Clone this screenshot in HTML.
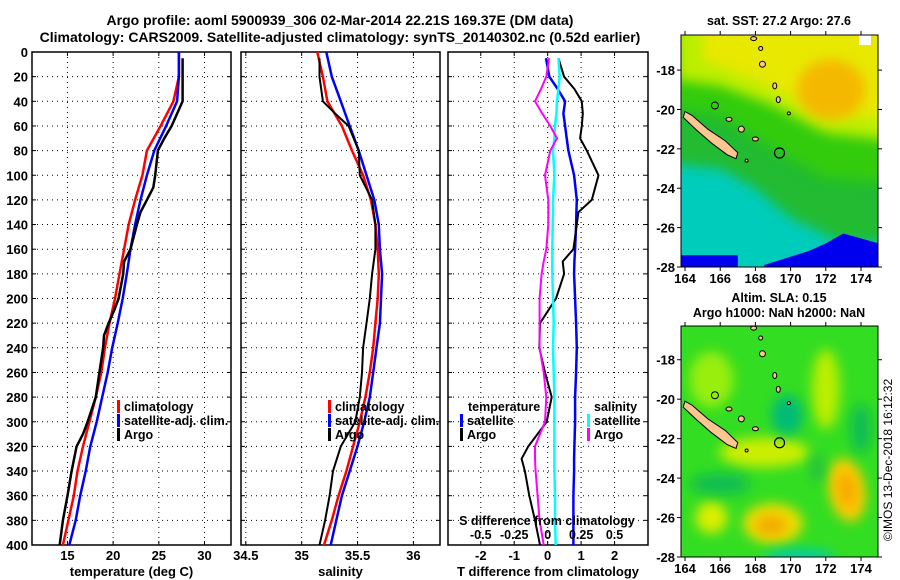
<!DOCTYPE html>
<html><head><meta charset="utf-8">
<style>
body{margin:0;background:#fff;}
svg{display:block;font-family:"Liberation Sans",Arial,sans-serif;font-weight:bold;}
</style></head><body>
<svg id="chart" width="900" height="580" viewBox="0 0 900 580">
<defs>
<filter id="blur1" x="-60%" y="-60%" width="220%" height="220%"><feGaussianBlur stdDeviation="6"/></filter>
<clipPath id="clipMap1"><rect x="681" y="35" width="197" height="232"/></clipPath>
<clipPath id="clipMap2"><rect x="681" y="326" width="197" height="231"/></clipPath>
</defs>
<text x="340" y="25" font-size="14" text-anchor="middle">Argo profile: aoml 5900939_306 02-Mar-2014 22.21S 169.37E (DM data)</text>
<text x="340" y="42" font-size="14" text-anchor="middle">Climatology: CARS2009. Satellite-adjusted climatology: synTS_20140302.nc (0.52d earlier)</text>
<g id="panels"></g>
<g id="maps"></g>
<text transform="translate(892,460) rotate(-90)" font-size="12" font-weight="normal" text-anchor="middle">©IMOS 13-Dec-2018 16:12:32</text>
</svg>
<script>
const depths=[0,20,40,60,80,100,120,140,160,180,200,220,240,260,280,300,320,340,360,380,400];
const tempClim=[27.2,27.2,26.6,25.2,23.7,23.2,22.4,21.7,21.2,20.7,20.2,19.6,19.1,18.7,18.1,17.4,16.7,16.1,15.7,15.1,14.5];
const tempSat=[27.2,27.2,27.0,25.8,24.5,23.7,23.0,22.4,21.9,21.5,21.05,20.5,19.9,19.4,18.8,18.2,17.5,17.0,16.4,15.9,15.2];
const argoDepths=[5,20,40,50,60,70,80,100,110,120,130,140,160,170,180,200,210,220,230,240,260,280,300,310,320,340,360,380,400];
const tempArgo=[27.6,27.6,27.6,27.0,26.4,25.6,24.9,24.6,24.4,23.7,23.0,22.6,21.9,21.2,21.1,20.6,20.1,19.5,19.0,18.9,18.5,18.1,17.2,16.7,16.0,15.45,15.0,14.5,14.15];
const salClim=[35.14,35.19,35.23,35.36,35.45,35.55,35.62,35.66,35.68,35.69,35.68,35.66,35.64,35.61,35.57,35.52,35.46,35.40,35.33,35.27,35.20];
const salSat=[35.22,35.27,35.35,35.43,35.51,35.58,35.65,35.69,35.70,35.72,35.71,35.70,35.67,35.64,35.61,35.56,35.50,35.43,35.36,35.31,35.26];
const salArgoDepths=[5,20,40,50,60,80,100,120,140,160,180,200,220,240,260,280,300,320,340,360,380,400];
const salArgo=[35.16,35.16,35.19,35.30,35.42,35.51,35.52,35.63,35.66,35.66,35.63,35.61,35.58,35.55,35.54,35.52,35.48,35.35,35.28,35.25,35.21,35.16];
const diffDepths=[5,20,30,40,50,60,70,80,100,120,130,140,160,170,180,200,220,240,260,280,300,320,330,340,360,380,400];
const dTempSat=[-0.05,0.05,0.3,0.52,0.47,0.52,0.57,0.62,0.79,0.87,0.86,0.85,0.82,0.8,0.79,0.82,0.85,0.87,0.85,0.82,0.82,0.8,0.79,0.79,0.77,0.77,0.77];
const dTempArgo=[0.32,0.49,0.8,1.02,1.05,1.02,0.97,1.17,1.52,1.32,0.92,0.87,0.77,0.45,0.49,0.25,-0.23,-0.25,-0.08,0.12,-0.03,-0.58,-0.78,-0.68,-0.55,-0.38,-0.23];
const dSalSat=[0.08,0.09,0.08,0.07,0.065,0.055,0.05,0.04,0.05,0.04,0.04,0.038,0.035,0.035,0.035,0.04,0.045,0.04,0.045,0.05,0.05,0.05,0.05,0.05,0.055,0.055,0.06];
const dSalArgo=[0.01,-0.01,-0.05,-0.095,-0.04,0.02,0.07,0.02,-0.02,0.005,0.005,0.005,-0.01,-0.03,-0.045,-0.06,-0.06,-0.06,-0.03,-0.01,-0.02,-0.095,-0.095,-0.09,-0.075,-0.06,-0.03];
const depthTicks=[0,20,40,60,80,100,120,140,160,180,200,220,240,260,280,300,320,340,360,380,400];
const tempTicks=[15,20,25,30];
const salTicks=[34.5,35,35.5,36];
const dTempTicks=[-2,-1,0,1,2];
const dSalTicks=[-0.5,-0.25,0,0.25,0.5];
const dSalTickLabels=["-0.5","-0.25","0","0.25","0.5"];

const NS='http://www.w3.org/2000/svg';
function mk(tag,attrs,parent){const e=document.createElementNS(NS,tag);for(const k in attrs)e.setAttribute(k,attrs[k]);parent.appendChild(e);return e;}
const Y0=52,Y1=545;
function yScale(d){return Y0+(d/400)*(Y1-Y0);}
function xScaleFactory(x0,x1,v0,v1){return v=>x0+(v-v0)/(v1-v0)*(x1-x0);}
const panelsG=document.getElementById('panels');

function drawPanel(name,x0,x1,v0,v1,ticks,tickLabels,title,showDepthLabels){
  const g=mk('g',{},panelsG);
  
  
  const xs=xScaleFactory(x0,x1,v0,v1);
  for(const d of depthTicks){
    if(d===0||d===400)continue;
    const gl=mk('line',{x1:x0,x2:x1,y1:yScale(d),y2:yScale(d),stroke:'#000','stroke-width':1,'stroke-dasharray':'1,4'},g);
    
    
  }
  ticks.forEach((t,i)=>{
    const x=xs(t);
    const gl=mk('line',{x1:x,x2:x,y1:Y0,y2:Y1,stroke:'#000','stroke-width':1,'stroke-dasharray':'1,4'},g);
    
    
    mk('line',{x1:x,x2:x,y1:Y1,y2:Y1-4,stroke:'#000'},g);
    mk('line',{x1:x,x2:x,y1:Y0,y2:Y0+4,stroke:'#000'},g);
    const tl=mk('text',{x:x,y:Y1+15,'font-size':13,'text-anchor':'middle'},g);
    tl.textContent=tickLabels[i];
    
    
  });
  for(const d of depthTicks){
    mk('line',{x1:x0,x2:x0+4,y1:yScale(d),y2:yScale(d),stroke:'#000'},g);
    mk('line',{x1:x1,x2:x1-4,y1:yScale(d),y2:yScale(d),stroke:'#000'},g);
    if(showDepthLabels){
      const tl=mk('text',{x:x0-4,y:yScale(d)+5,'font-size':13,'text-anchor':'end'},g);
      tl.textContent=d;
      
      
    }
  }
  const fr=mk('rect',{x:x0,y:Y0,width:x1-x0,height:Y1-Y0,fill:'none',stroke:'#000','stroke-width':1.5},g);
  
  
  const at=mk('text',{x:(x0+x1)/2,y:576,'font-size':13,'text-anchor':'middle'},g);
  at.textContent=title;
  
  
  return {g,xs};
}
function line(g,xs,vals,ds,color,w,name){
  const pts=vals.map((v,i)=>xs(v).toFixed(1)+','+yScale(ds[i]).toFixed(1)).join(' ');
  const p=mk('polyline',{points:pts,fill:'none',stroke:color,'stroke-width':w,'stroke-linejoin':'round'},g);
  
  
}
function legendEntry(g,x,y,color,label,name){
  const e=mk('g',{},g);
  
  
  mk('rect',{x:x,y:y-11,width:3,height:13,fill:color},e);
  const t=mk('text',{x:x+7,y:y,'font-size':12.5},e);
  t.textContent=label;
}

const p1=drawPanel('temperature-panel',32,231,11.12,32.9,tempTicks,tempTicks.map(String),'temperature (deg C)',true);
line(p1.g,p1.xs,tempClim,depths,'#f00',2.5,'climatology-temperature-line');
line(p1.g,p1.xs,tempSat,depths,'#00f',2.5,'satellite-temperature-line');
line(p1.g,p1.xs,tempArgo,argoDepths,'#000',2.5,'argo-temperature-line');
legendEntry(p1.g,117,411,'#f00','climatology','legend-climatology');
legendEntry(p1.g,117,425,'#00f','satellite-adj. clim.','legend-satellite');
legendEntry(p1.g,117,439,'#000','Argo','legend-argo');

const p2=drawPanel('salinity-panel',241,440,34.457,36.238,salTicks,salTicks.map(String),'salinity',false);
line(p2.g,p2.xs,salClim,depths,'#f00',2.5,'climatology-salinity-line');
line(p2.g,p2.xs,salSat,depths,'#00f',2.5,'satellite-salinity-line');
line(p2.g,p2.xs,salArgo,salArgoDepths,'#000',2,'argo-salinity-line');
legendEntry(p2.g,328,411,'#f00','climatology','legend-climatology');
legendEntry(p2.g,328,425,'#00f','satellite-adj. clim.','legend-satellite');
legendEntry(p2.g,328,439,'#000','Argo','legend-argo');

const p3=drawPanel('difference-panel',448,648,-2.98,3.0,dTempTicks,dTempTicks.map(String),'T difference from climatology',false);
const sxs=v=>p3.xs(v*4);
line(p3.g,p3.xs,dTempSat,diffDepths,'#00f',2.5,'temperature-satellite-diff-line');
line(p3.g,p3.xs,dTempArgo,diffDepths,'#000',2,'temperature-argo-diff-line');
line(p3.g,sxs,dSalSat,diffDepths,'#0ff',2.5,'salinity-satellite-diff-line');
line(p3.g,sxs,dSalArgo,diffDepths,'#f0f',2,'salinity-argo-diff-line');
{
  const t=mk('text',{x:468,y:411,'font-size':12.5},p3.g);t.textContent='temperature';
  
  
  legendEntry(p3.g,460,425,'#00f','satellite','legend-temperature-satellite');
  legendEntry(p3.g,460,439,'#000','Argo','legend-temperature-argo');
  const t2=mk('text',{x:594,y:411,'font-size':12.5},p3.g);t2.textContent='salinity';
  
  
  legendEntry(p3.g,587,425,'#0ff','satellite','legend-salinity-satellite');
  legendEntry(p3.g,587,439,'#f0f','Argo','legend-salinity-argo');
  const st=mk('text',{x:547,y:525,'font-size':12.5,'text-anchor':'middle'},p3.g);st.textContent='S difference from climatology';
  
  
  dSalTicks.forEach((s,i)=>{
    const tl=mk('text',{x:sxs(s),y:539,'font-size':12.5,'text-anchor':'middle'},p3.g);
    tl.textContent=dSalTickLabels[i];
    
    
  });
}

const mapsG=document.getElementById('maps');
const lonTicks=[164,166,168,170,172,174];
const latTicks=[-18,-20,-22,-24,-26,-28];
function drawMap(name,top,bottom,latTop,latAtBottom,clipId,drawFill,titles){
  const g=mk('g',{},mapsG);
  
  
  const L=681,R=878;
  const lx=lon=>685+(lon-164)*17.6;
  const ly=lat=>top+(latTop-lat)/(latTop-latAtBottom)*(bottom-top);
  const fg=mk('g',{'clip-path':'url(#'+clipId+')'},g);
  drawFill(fg,lx,ly);
  const nc=mk('polygon',{points:[[164,-20.1],[164.4,-20.3],[165.3,-21.0],[166.3,-21.6],[167.0,-22.2],[166.9,-22.5],[166.4,-22.3],[165.5,-21.7],[164.6,-21.0],[163.9,-20.4]].map(p=>lx(p[0]).toFixed(1)+','+ly(p[1]).toFixed(1)).join(' '),fill:'#fbc690',stroke:'#000','stroke-width':1},fg);
  
  
  const isl=[[167.2,-21.0,3,3],[166.5,-20.5,3,2],[168.0,-21.5,3,2],[168.4,-17.7,3,3],[169.1,-18.8,2,3],[169.3,-19.5,2,3],[167.9,-16.4,3,2],[168.3,-16.9,2,2],[169.9,-20.2,1.5,1.5],[167.5,-22.6,1.5,1.5]];
  isl.forEach(s=>{
    const e=mk('ellipse',{cx:lx(s[0]),cy:ly(s[1]),rx:s[2],ry:s[3],fill:'#fbc690',stroke:'#000','stroke-width':1},fg);
    
    
  });
  mk('circle',{cx:lx(165.7),cy:ly(-19.8),r:3.5,fill:'none',stroke:'#000'},fg);
  const pc=mk('circle',{cx:lx(169.37),cy:ly(-22.21),r:5,fill:'none',stroke:'#000','stroke-width':1.2},g);
  
  
  mk('rect',{x:L,y:top,width:R-L,height:bottom-top,fill:'none',stroke:'#000','stroke-width':1},g);
  lonTicks.forEach(lon=>{
    mk('line',{x1:lx(lon),x2:lx(lon),y1:bottom,y2:bottom+4,stroke:'#000'},g);
    mk('line',{x1:lx(lon),x2:lx(lon),y1:top,y2:top-4,stroke:'#000'},g);
    const t=mk('text',{x:lx(lon),y:bottom+16,'font-size':13,'text-anchor':'middle'},g);
    t.textContent=lon;
    
    
  });
  latTicks.forEach(lat=>{
    mk('line',{x1:L,x2:L-4,y1:ly(lat),y2:ly(lat),stroke:'#000'},g);
    mk('line',{x1:R,x2:R+4,y1:ly(lat),y2:ly(lat),stroke:'#000'},g);
    const t=mk('text',{x:L-6,y:ly(lat)+5,'font-size':13,'text-anchor':'end'},g);
    t.textContent=lat;
    
    
  });
  titles.forEach(tt=>{
    const t=mk('text',{x:779,y:tt[1],'font-size':12.5,'text-anchor':'middle'},g);
    t.textContent=tt[0];
    
    
  });
}
function poly(g,pts,fill,lx,ly,filter){
  const a={points:pts.map(p=>lx(p[0]).toFixed(1)+','+ly(p[1]).toFixed(1)).join(' '),fill:fill};
  if(filter)a.filter='url(#'+filter+')';
  mk('polygon',a,g);
}
function ell(g,lon,lat,rx,ry,fill,lx,ly,filter,rot){
  const a={cx:lx(lon),cy:ly(lat),rx:rx,ry:ry,fill:fill};
  if(filter)a.filter='url(#'+filter+')';
  if(rot)a.transform='rotate('+rot+' '+lx(lon)+' '+ly(lat)+')';
  mk('ellipse',a,g);
}
drawMap('sst-map',35,267,-18+(69.3-35)/19.24,-28,'clipMap1',(g,lx,ly)=>{
  mk('rect',{x:670,y:30,width:220,height:250,fill:'#00ccbb'},g);
  poly(g,[[160,-12],[180,-12],[180,-26.5],[173,-26.8],[170,-25.5],[168,-24],[166,-23],[160,-22.5]],'#22bb33',lx,ly,'blur1');
  poly(g,[[160,-12],[180,-12],[180,-24],[172,-23.5],[169,-22],[166,-20.3],[160,-19.5]],'#33cc11',lx,ly,'blur1');
  poly(g,[[163.5,-14],[180,-14],[180,-22],[172,-21.2],[169,-19.8],[166,-18.8],[163.5,-18.5]],'#bbee00',lx,ly,'blur1');
  poly(g,[[165,-14],[180,-14],[180,-20.5],[172,-20.3],[168,-18.5],[165,-17.5]],'#e8e800',lx,ly,'blur1');
  ell(g,172.3,-19,34,30,'#f5b800',lx,ly,'blur1');
  poly(g,[[163,-27.4],[167,-27.4],[167,-29],[163,-29]],'#0000ee',lx,ly);
  poly(g,[[168.5,-27.9],[171,-27.2],[172,-26.8],[173,-26.3],[175,-26.8],[175,-29],[168.5,-29]],'#0000ee',lx,ly);
  mk('rect',{x:859,y:35,width:12,height:10,fill:'#fff'},g);
},[['sat. SST: 27.2 Argo: 27.6',25]]);
drawMap('sla-map',326,557,-18+(359-326)/19.3,-28,'clipMap2',(g,lx,ly)=>{
  mk('rect',{x:670,y:320,width:220,height:250,fill:'#33dd22'},g);
  ell(g,165.5,-19,22,28,'#99ee11',lx,ly,'blur1');
  ell(g,172,-19.5,14,40,'#bbee00',lx,ly,'blur1');
  ell(g,168.5,-22.7,45,15,'#ccee00',lx,ly,'blur1');
  ell(g,173.2,-24.6,18,32,'#ffcc00',lx,ly,'blur1',-10);
  ell(g,173.2,-24.6,9,18,'#f5a800',lx,ly,'blur1',-10);
  ell(g,169,-26.3,30,20,'#eedd00',lx,ly,'blur1');
  ell(g,168.9,-26.4,16,10,'#f5a800',lx,ly,'blur1');
  ell(g,165.5,-26,16,16,'#ddee00',lx,ly,'blur1');
  ell(g,169.8,-20.8,16,20,'#00bb77',lx,ly,'blur1');
  ell(g,166,-24.3,30,10,'#11bb55',lx,ly,'blur1');
  ell(g,170.5,-28,35,8,'#00ccaa',lx,ly,'blur1');
  ell(g,174,-21.5,10,25,'#11bb55',lx,ly,'blur1');
  ell(g,171.5,-23.5,6,14,'#22bb44',lx,ly,'blur1');
},[['Altim. SLA: 0.15',302],['Argo h1000: NaN h2000: NaN',317]]);
</script>
</body></html>
